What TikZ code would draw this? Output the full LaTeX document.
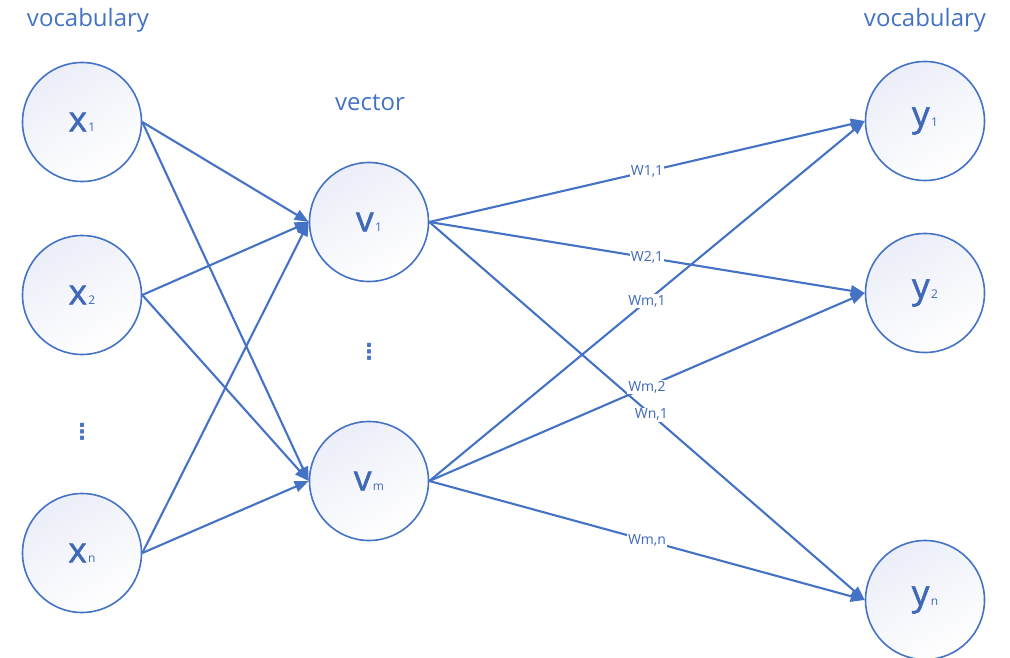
\documentclass[tikz,border=0pt]{standalone}
\usepackage{fontspec}
\setmainfont{Open Sans}
\newfontfamily\dejavu{DejaVu Sans}
\usetikzlibrary{arrows.meta}
\definecolor{lblue}{HTML}{4472C4}
\definecolor{tblue}{HTML}{3F69B8}
\definecolor{cfill}{HTML}{EBEEF8}
\newcommand{\nlab}[2]{{\addfontfeature{FakeBold=1.6}\fontsize{35}{35}\selectfont #1}\kern1.5pt{\fontsize{12}{12}\selectfont #2}}
\tikzset{
  unit/.style={circle, draw=lblue, line width=1.6pt, minimum size=119pt, inner sep=0pt,
    top color=cfill, bottom color=white, shading angle=30, text=tblue},
  conn/.style={draw=lblue, line width=2.1pt, -{Triangle[length=14pt,width=11pt]}},
  wlab/.style={fill=white, inner sep=1pt, text=tblue, font=\fontsize{14}{14}\selectfont},
  head/.style={text=lblue, font=\fontsize{24}{24}\selectfont},
  vdots/.style={text=lblue, font=\dejavu\fontsize{22}{22}\selectfont\bfseries}
}
\begin{document}
\begin{tikzpicture}[x=1pt, y=-1pt]
\useasboundingbox (0,0) rectangle (1010,658);
\node[head] (voc1) at (88,20) {vocabulary};
\node[head] (voc2) at (925,20) {vocabulary};
\node[head] (vec) at (370,103) {vector};
\node[unit] (x1) at (82,122) {\nlab{x}{1}};
\node[unit] (x2) at (82,295) {\nlab{x}{2}};
\node[unit] (xn) at (82,553) {\nlab{x}{n}};
\node[unit] (v1) at (369,222) {\nlab{v}{1}};
\node[unit] (vm) at (369,481) {\nlab{v}{m}};
\node[unit] (y1) at (925,121) {\nlab{y}{1}};
\node[unit] (y2) at (925,293) {\nlab{y}{2}};
\node[unit] (yn) at (925,600) {\nlab{y}{n}};
\node[vdots] (dx) at (82,432) {⋮};
\node[vdots] (dv) at (369,352) {⋮};
\draw[conn] (x1.east) -- (v1.west);
\draw[conn] (x1.east) -- (vm.west);
\draw[conn] (x2.east) -- (v1.west);
\draw[conn] (x2.east) -- (vm.west);
\draw[conn] (xn.east) -- (v1.west);
\draw[conn] (xn.east) -- (vm.west);
\draw[conn] (v1.east) -- (y1.west);
\draw[conn] (v1.east) -- (y2.west);
\draw[conn] (v1.east) -- (yn.west);
\draw[conn] (vm.east) -- (y1.west);
\draw[conn] (vm.east) -- (y2.west);
\draw[conn] (vm.east) -- (yn.west);
\path (v1.east) -- (y1.west) node[wlab, pos=0.5] (w11) {W1,1};
\path (v1.east) -- (y2.west) node[wlab, pos=0.5] (w21) {W2,1};
\path (vm.east) -- (y1.west) node[wlab, pos=0.5] (wm1) {Wm,1};
\path (vm.east) -- (y2.west) node[wlab, pos=0.5] (wm2) {Wm,2};
\path (v1.east) -- (yn.west) node[wlab, pos=0.51] (wn1) {Wn,1};
\path (vm.east) -- (yn.west) node[wlab, pos=0.5] (wmn) {Wm,n};
\end{tikzpicture}
\end{document}
